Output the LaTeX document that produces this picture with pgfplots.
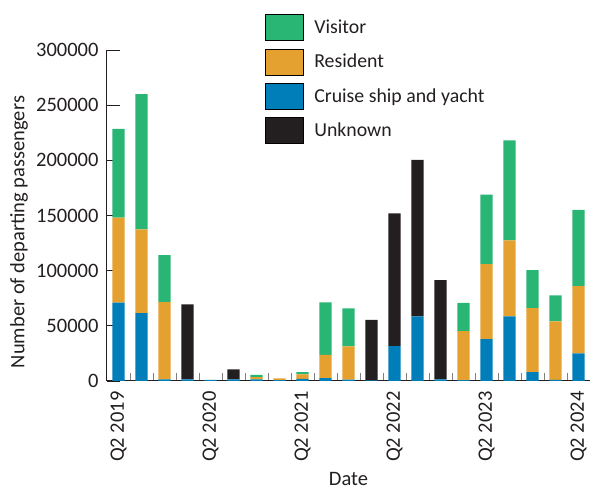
\documentclass[border=0pt]{standalone}
\usepackage{pgfplots}
\pgfplotsset{compat=1.18}
\usepackage{pgfplotstable}
\usepackage{fontspec}
\setmainfont{Carlito}

\definecolor{visitor}{RGB}{41,181,115}
\definecolor{resident}{RGB}{229,161,47}
\definecolor{cruise}{RGB}{0,126,185}
\definecolor{unknown}{RGB}{35,31,32}
\definecolor{txt}{RGB}{35,31,32}

% quarters Q2 2019 ... Q2 2024 at x = 0 ... 20
\pgfplotstableread{
x  cruise resident visitor unknown
0  71000  77000    80500   0
1  61500  76000    122500  0
2  1500   70000    42500   0
3  1500   0        0       68000
4  1000   0        0       0
5  1500   0        0       9000
6  1500   2000     2000    0
7  800    1600     0       0
8  2000   4000     2000    0
9  2700   21000    47500   0
10 1300   30000    34500   0
11 500    0        0       55000
12 31500  0        0       120500
13 58500  0        0       142000
14 1500   0        0       90000
15 700    44500    25500   0
16 38000  68000    63000   0
17 58500  69000    90500   0
18 8000   58000    34500   0
19 1000   53000    23500   0
20 25000  61000    69000   0
}\passengers

\begin{document}
\begin{tikzpicture}[font=\fontsize{20.5}{24}\selectfont, text=txt]
\begin{axis}[
	scale only axis,
	width=483pt, height=331pt,
	ybar stacked, bar width=0.54,
	xmin=-0.5, xmax=20.5, ymin=0, ymax=300000,
	axis x line*=bottom, axis y line*=left,
	axis line style={-, line width=1pt, txt},
	xtick={0,4,...,20},
	xticklabels={Q2 2019, Q2 2020, Q2 2021, Q2 2022, Q2 2023, Q2 2024},
	minor xtick={0.5,1.5,...,20.5},
	major x tick style={draw=none},
	minor x tick style={gray, line width=0.9pt},
	minor tick length=8pt,
	ytick={0,50000,...,300000},
	major tick length=13pt,
	y tick style={txt, line width=0.9pt},
	tick align=inside,
	scaled y ticks=false,
	/pgf/number format/assume math mode=true,
	yticklabel style={/pgf/number format/fixed, /pgf/number format/1000 sep={}},
	xticklabel style={rotate=90, anchor=east},
	xticklabel shift=7pt,
	yticklabel shift=5pt,
	tick label style={font=\fontsize{20.5}{24}\selectfont, text=txt},
	every axis x label/.style={at={(rel axis cs:0.5,-0.3172)}, anchor=base, inner sep=0pt,
		font=\fontsize{20.5}{24}\selectfont, text=txt},
	every axis y label/.style={at={(rel axis cs:-0.182,0.45)}, anchor=center, rotate=90,
		font=\fontsize{20.5}{24}\selectfont, text=txt},
	xlabel={Date},
	ylabel={Number of departing passengers},
	legend image code/.code={\fill[#1] (0pt,-13pt) rectangle (38pt,13pt); \path[draw=none, fill=none] (0pt,0pt) -- (47pt,0pt);},
	legend style={at={(0.327,1.109)}, anchor=north west, draw=none, fill=none,
		font=\fontsize{19.8}{23}\selectfont, text=txt,
		row sep=8pt, cells={anchor=west}, inner sep=0pt},
	legend entries={Visitor, Resident, Cruise ship and yacht, Unknown},
]
\addlegendimage{fill=visitor}
\addlegendimage{fill=resident}
\addlegendimage{fill=cruise}
\addlegendimage{fill=unknown}

\addplot[fill=cruise, draw=none, forget plot] table[x=x, y=cruise] {\passengers};
\addplot[fill=resident, draw=none, forget plot] table[x=x, y=resident] {\passengers};
\addplot[fill=visitor, draw=none, forget plot] table[x=x, y=visitor] {\passengers};
\addplot[fill=unknown, draw=none, forget plot] table[x=x, y=unknown] {\passengers};

\coordinate (bbl) at (rel axis cs:-0.2215,-0.329);
\coordinate (btr) at (rel axis cs:1,1.151);
\end{axis}
\pgfresetboundingbox
\path (bbl) rectangle (btr);
\end{tikzpicture}
\end{document}
